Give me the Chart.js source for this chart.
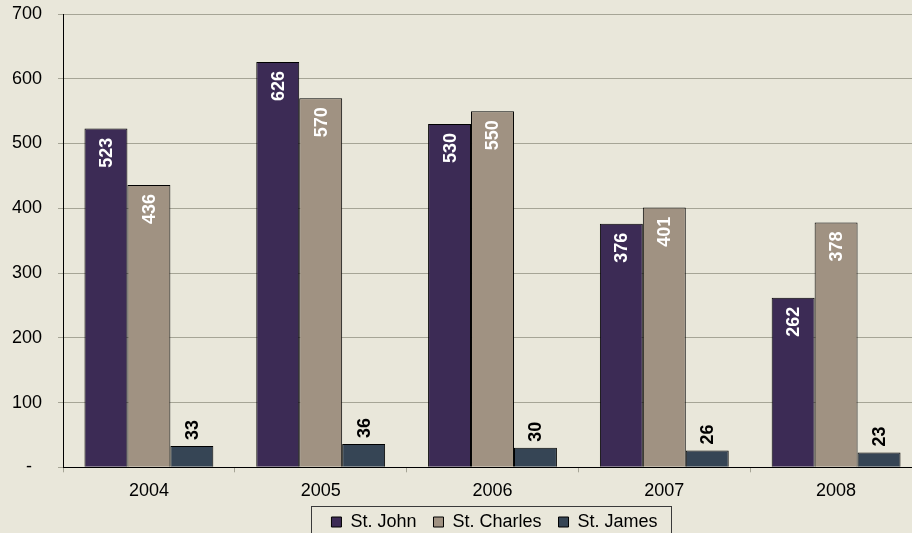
<!DOCTYPE html>
<html>
<head>
<meta charset="utf-8">
<script src="https://cdn.jsdelivr.net/npm/chart.js@4/dist/chart.umd.min.js"></script>
<style>
  html, body { margin: 0; padding: 0; overflow: hidden; background: #e9e7da; }
  #wrap { width: 922px; height: 541px; }
</style>
</head>
<body>
<div id="wrap"><canvas id="chart" width="922" height="541"></canvas></div>
<script>
var years = ["2004", "2005", "2006", "2007", "2008"];
var st_john = [523, 626, 530, 376, 262];
var st_charles = [436, 570, 550, 401, 378];
var st_james = [33, 36, 30, 26, 23];

var font_family = '"Liberation Sans", Arial, sans-serif';
var grid_color = "#a6a596";

// rotated value labels, white inside the tall bars, black above the small ones
const barLabels = {
  id: "barLabels",
  afterDatasetsDraw(chart) {
    const ctx = chart.ctx;
    chart.data.datasets.forEach(function (ds, i) {
      const meta = chart.getDatasetMeta(i);
      meta.data.forEach(function (bar, j) {
        const inside = ds.labelInside;
        ctx.save();
        ctx.font = "bold 18px " + font_family;
        ctx.fillStyle = inside ? "#ffffff" : "#000000";
        ctx.textBaseline = "middle";
        ctx.translate(bar.x + 1, inside ? bar.y + 9 : bar.y - 6);
        ctx.rotate(-Math.PI / 2);
        ctx.textAlign = inside ? "right" : "left";
        ctx.fillText(String(ds.data[j]), 0, 0);
        ctx.restore();
      });
    });
  },
};

// centre the legend under the plot area and put a frame round it
const legendFrame = {
  id: "legendFrame",
  afterLayout(chart) {
    const lg = chart.legend;
    const p = lg.options.labels.padding;
    const hb = lg.legendHitBoxes;
    const total = hb.reduce(function (s, h) { return s + h.width; }, 0) + p * (hb.length - 1);
    const ca = chart.chartArea;
    lg.left = (ca.left + ca.right) / 2 - total / 2 - p + 2;
  },
  afterDraw(chart) {
    const ctx = chart.ctx;
    const hb = chart.legend.legendHitBoxes;
    const first = hb[0];
    const last = hb[hb.length - 1];
    const cy = first.top + first.height / 2;
    const x0 = Math.round(first.left - 20) + 0.5;
    const x1 = Math.round(last.left + last.width + 13) + 0.5;
    const y0 = Math.round(cy - 16) + 0.5;
    ctx.save();
    ctx.strokeStyle = "#3a3a3a";
    ctx.lineWidth = 1;
    ctx.strokeRect(x0, y0, x1 - x0, 40);
    ctx.restore();
  },
};

const ctx = document.getElementById("chart");

const chart = new Chart(ctx, {
  type: "bar",
  data: {
    labels: years,
    datasets: [
      {
        label: "St. John",
        data: st_john,
        backgroundColor: "#3c2b55",
        borderColor: "#000000",
        borderWidth: 1,
        labelInside: true,
      },
      {
        label: "St. Charles",
        data: st_charles,
        backgroundColor: "#a09282",
        borderColor: "#000000",
        borderWidth: 1,
        labelInside: true,
      },
      {
        label: "St. James",
        data: st_james,
        backgroundColor: "#364555",
        borderColor: "#000000",
        borderWidth: 1,
        labelInside: false,
      },
    ],
  },
  options: {
    responsive: false,
    animation: false,
    layout: {
      padding: { top: 14, left: 0, right: 0, bottom: 0 },
    },
    datasets: {
      bar: {
        categoryPercentage: 0.75,
        barPercentage: 1.0,
      },
    },
    plugins: {
      tooltip: { enabled: false },
      title: { display: false },
      legend: {
        position: "bottom",
        align: "start",
        labels: {
          boxWidth: 10,
          boxHeight: 10,
          padding: 17,
          color: "#000000",
          font: { size: 18, family: font_family },
        },
      },
    },
    scales: {
      x: {
        afterFit: function (scale) {
          scale.height = 28.7;
        },
        grid: {
          display: true,
          drawOnChartArea: false,
          offset: true,
          tickLength: 5,
          color: grid_color,
        },
        border: { color: "#000000", width: 1 },
        ticks: {
          color: "#000000",
          padding: 8,
          font: { size: 18, family: font_family },
        },
      },
      y: {
        min: 0,
        max: 700,
        afterFit: function (scale) {
          scale.width = 63;
          scale.paddingTop = 0;
          scale.paddingBottom = 0;
        },
        grid: {
          color: grid_color,
          tickLength: 5,
        },
        border: { color: "#000000", width: 1 },
        ticks: {
          stepSize: 100,
          color: "#000000",
          padding: 16,
          font: { size: 18, family: font_family },
          callback: function (value) {
            return value === 0 ? "-  " : value;
          },
        },
      },
    },
  },
  plugins: [barLabels, legendFrame],
});
</script>
</body>
</html>
